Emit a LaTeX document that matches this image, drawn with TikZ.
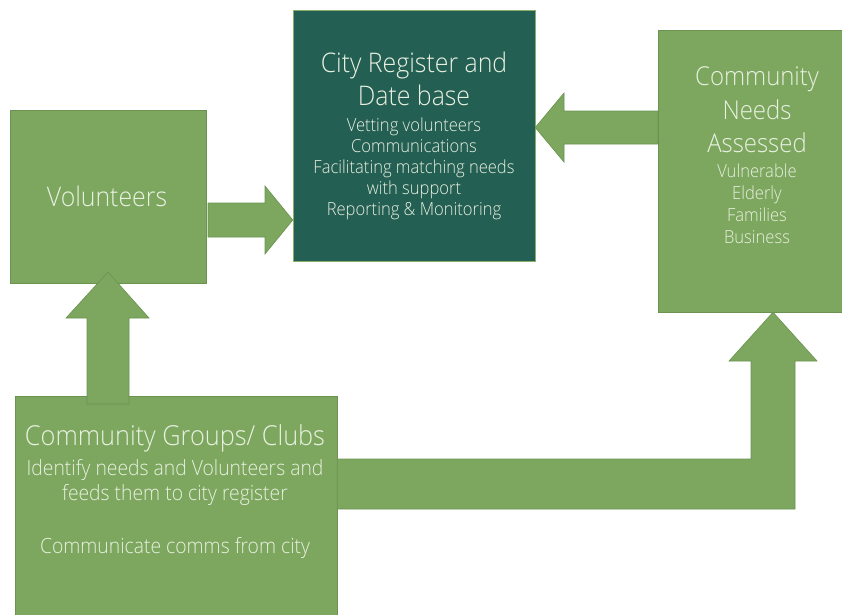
\documentclass[tikz,border=0pt]{standalone}
\usepackage{fontspec}
\IfFontExistsTF{Open Sans Light}
  {\setmainfont{Open Sans Light}[FakeStretch=0.92]}
  {\setmainfont{Open Sans}[FakeStretch=0.88]}
\begin{document}
\definecolor{leaf}{HTML}{7DA75F}
\definecolor{leafedge}{HTML}{6A9350}
\definecolor{teal}{HTML}{245F53}
\definecolor{tealedge}{HTML}{8AAE6A}
\definecolor{txt}{HTML}{E8F0E0}
\begin{tikzpicture}[x=1pt,y=-1pt,
  greenbox/.style={draw=leafedge,fill=leaf,line width=0.7pt},
  darkbox/.style={draw=tealedge,fill=teal,line width=0.8pt},
  blockarrow/.style={draw=leafedge,fill=leaf,line width=0.6pt,line join=miter},
  txtbase/.style={text=txt,anchor=base,inner sep=0pt},
  headline/.style={txtbase,font=\fontsize{26}{30}\selectfont},
  bigline/.style={txtbase,font=\fontsize{27}{32}\selectfont},
  subline/.style={txtbase,font=\fontsize{18}{21}\selectfont},
  groupline/.style={txtbase,font=\fontsize{21}{24}\selectfont}]
\useasboundingbox (0,0) rectangle (842,614);
\clip (0,0) rectangle (842,614);

% boxes
\draw[greenbox] (10,110) rectangle (206,283);
\node[inner sep=0pt,minimum width=196pt,minimum height=173pt] (vol) at (108,196.5) {};
\draw[darkbox] (293,10) rectangle (535,261);
\node[inner sep=0pt,minimum width=242pt,minimum height=251pt] (city) at (414,135.5) {};
\draw[greenbox] (658,30) rectangle (856,312);
\node[inner sep=0pt,minimum width=198pt,minimum height=282pt] (needs) at (757,171) {};
\draw[greenbox] (15,396) rectangle (337,640);
\node[inner sep=0pt,minimum width=322pt,minimum height=244pt] (groups) at (176,518) {};

% arrow: volunteers -> city register
\coordinate (t1) at (city.west |- 0,220);
\draw[blockarrow] (208,203) -- (265,203) -- (265,186) -- (t1)
  -- (265,254) -- (265,237) -- (208,237) -- cycle;

% arrow: needs assessed -> city register
\coordinate (t2) at (city.east |- 0,127.5);
\draw[blockarrow] (needs.west |- 0,111) -- (564,111) -- (564,93) -- (t2)
  -- (564,162) -- (564,144) -- (needs.west |- 0,144) -- cycle;

% arrow: community groups -> volunteers
\coordinate (t3) at (108,272);
\draw[blockarrow] (87,404) -- (87,318) -- (66,318) -- (t3)
  -- (149,318) -- (129,318) -- (129,404) -- cycle;

% bent arrow: community groups -> needs assessed
\coordinate (t4) at (needs.south -| 773,0);
\draw[blockarrow] (groups.east |- 0,459) -- (751,459) -- (751,361) -- (729,361) -- (t4)
  -- (817,361) -- (795,361) -- (795,509) -- (groups.east |- 0,509) -- cycle;

% texts
\node[bigline] (volT) at (107,206) {Volunteers};

\node[headline,font=\fontsize{27}{30}\selectfont] (cityT1) at (414,72) {City Register and};
\node[headline,font=\fontsize{27}{30}\selectfont] (cityT2) at (414,105) {Date base};
\node[subline] (cityS1) at (414,131) {Vetting volunteers};
\node[subline] (cityS2) at (414,152) {Communications};
\node[subline] (cityS3) at (414,173) {Facilitating matching needs};
\node[subline] (cityS4) at (414,194) {with support};
\node[subline] (cityS5) at (414,215) {Reporting \& Monitoring};

\node[headline] (needT1) at (757,85) {Community};
\node[headline] (needT2) at (757,119) {Needs};
\node[headline] (needT3) at (757,152) {Assessed};
\node[subline] (needS1) at (757,177) {Vulnerable};
\node[subline] (needS2) at (757,199) {Elderly};
\node[subline] (needS3) at (757,221) {Families};
\node[subline] (needS4) at (757,243) {Business};

\node[headline,font=\fontsize{27.5}{30}\selectfont] (grpT) at (175,445) {Community Groups/ Clubs};
\node[groupline] (grpS1) at (175,475) {Identify needs and Volunteers and};
\node[groupline] (grpS2) at (175,500) {feeds them to city register};
\node[groupline] (grpS3) at (175,553) {Communicate comms from city};
\end{tikzpicture}
\end{document}
